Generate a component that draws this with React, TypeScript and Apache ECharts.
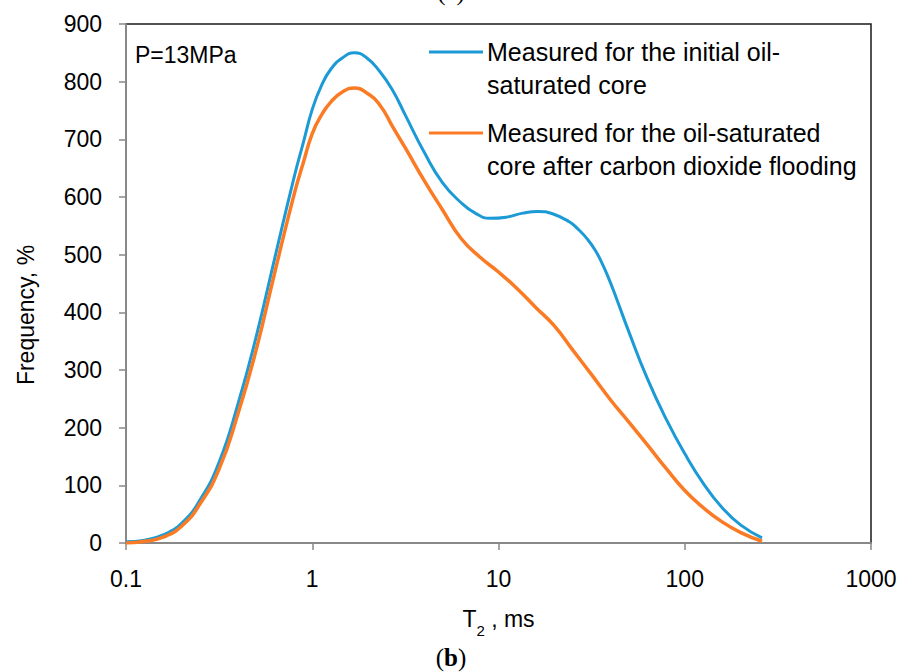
import React, { useEffect, useRef } from "react";
import * as echarts from "echarts";

// T2 (ms) sample points and frequency values
const initialT2 = [0.1, 0.126, 0.158, 0.2, 0.25, 0.316, 0.4, 0.5, 0.63, 0.8, 0.9, 1.0, 1.12, 1.26, 1.45, 1.68, 1.95, 2.3, 2.7, 3.16, 4.0, 5.0, 6.3, 7.5, 9.0, 11, 13.5, 16.3, 19.5, 24, 27, 30, 33, 36, 39.5, 43, 50, 63, 80, 100, 126, 158, 200, 260];
const initialFreq = [2, 5, 14, 35, 75, 140, 242, 358, 495, 635, 697, 752, 793, 822, 841, 850, 842, 818, 785, 742, 677, 625, 590, 572, 563, 565, 572, 575, 571, 557, 543, 527, 508, 485, 455, 424, 367, 285, 213, 155, 103, 62, 31, 9];

const floodT2 = [0.1, 0.126, 0.158, 0.2, 0.25, 0.316, 0.4, 0.5, 0.63, 0.8, 0.9, 1.0, 1.12, 1.26, 1.45, 1.68, 1.95, 2.3, 2.7, 3.16, 4.0, 5.0, 6.3, 8.0, 10, 12.6, 15.8, 20, 25, 31.6, 40, 50, 63, 80, 100, 126, 158, 200, 260];
const floodFreq = [0, 3, 10, 30, 68, 128, 225, 335, 470, 605, 662, 710, 742, 765, 782, 789, 781, 760, 722, 685, 628, 578, 528, 495, 470, 441, 409, 376, 335, 292, 248, 210, 170, 128, 91, 61, 37, 18, 3];

const seriesNames = [
  "Measured for the initial oil-saturated core",
  "Measured for the oil-saturated core after carbon dioxide flooding",
];
const legendLines = [
  ["Measured for the initial oil-", "saturated core"],
  ["Measured for the oil-saturated", "core after carbon dioxide flooding"],
];
const colors = ["#1b9ad6", "#fb7b25"];

const xTicks = [0.1, 1, 10, 100, 1000];
const yMin = 0;
const yMax = 900;
const yInterval = 100;

const annotation = "P=13MPa";
const yTitle = "Frequency, %";
const panelLabel = "b";

const FONT = "'Liberation Sans', Arial, sans-serif";
const SERIF = "'Liberation Serif', 'DejaVu Serif', serif";

export default function App() {
  const ref = useRef<HTMLDivElement>(null);

  useEffect(() => {
    if (!ref.current) return;
    const chart = echarts.init(ref.current, null, { renderer: "svg" });

    const legendGraphics: any[] = [];
    const legendTop = [52, 133];
    legendLines.forEach((lines, i) => {
      legendGraphics.push({
        type: "line",
        shape: { x1: 429, y1: legendTop[i], x2: 483, y2: legendTop[i] },
        style: { stroke: colors[i], lineWidth: 3 },
      });
      lines.forEach((t, j) => {
        legendGraphics.push({
          type: "text",
          x: 487,
          y: legendTop[i] + j * 33,
          style: {
            text: t,
            fontSize: 25,
            fontFamily: FONT,
            fill: "#000",
            textAlign: "left",
            textVerticalAlign: "middle",
          },
        });
      });
    });

    const option: any = {
      animation: false,
      backgroundColor: "#fff",
      grid: {
        left: 126,
        right: 31,
        top: 24,
        bottom: 129,
        show: true,
        borderColor: "#1a1a1a",
        borderWidth: 1.5,
        backgroundColor: "transparent",
      },
      xAxis: {
        type: "log",
        logBase: 10,
        min: xTicks[0],
        max: xTicks[xTicks.length - 1],
        axisLine: { show: true, lineStyle: { color: "#888888", width: 2 } },
        axisTick: { show: true, inside: false, length: 7, lineStyle: { color: "#888888", width: 1.5 } },
        axisLabel: {
          color: "#000",
          fontSize: 23,
          fontFamily: FONT,
          margin: 24,
          formatter: (v: number) => String(v),
        },
        splitLine: { show: false },
        minorTick: { show: false },
        name: "{a|T}{s|2}{a| , ms}",
        nameLocation: "middle",
        nameGap: 64,
        nameTextStyle: {
          rich: {
            a: { fontSize: 23, fontFamily: FONT, color: "#000" },
            s: { fontSize: 15, fontFamily: FONT, color: "#000", verticalAlign: "bottom", padding: [0, 0, -8, 0] },
          },
        },
      },
      yAxis: {
        type: "value",
        min: yMin,
        max: yMax,
        interval: yInterval,
        axisLine: { show: true, lineStyle: { color: "#888888", width: 2 } },
        axisTick: { show: true, inside: false, length: 7, lineStyle: { color: "#888888", width: 1.5 } },
        axisLabel: { color: "#000", fontSize: 23, fontFamily: FONT, margin: 24 },
        splitLine: { show: false },
      },
      series: [
        {
          name: seriesNames[0],
          type: "line",
          smooth: 0.5,
          showSymbol: false,
          symbol: "none",
          lineStyle: { color: colors[0], width: 3 },
          data: initialT2.map((x, i) => [x, initialFreq[i]]),
          z: 3,
        },
        {
          name: seriesNames[1],
          type: "line",
          smooth: 0.5,
          showSymbol: false,
          symbol: "none",
          lineStyle: { color: colors[1], width: 3.5 },
          data: floodT2.map((x, i) => [x, floodFreq[i]]),
          z: 4,
        },
      ],
      graphic: [
        {
          type: "text",
          x: 135,
          y: 55,
          style: {
            text: annotation,
            fontSize: 23,
            fontFamily: FONT,
            fill: "#000",
            textAlign: "left",
            textVerticalAlign: "middle",
          },
        },
        {
          type: "text",
          x: 26,
          y: 315,
          rotation: Math.PI / 2,
          style: {
            text: yTitle,
            fontSize: 23,
            fontFamily: FONT,
            fill: "#000",
            textAlign: "center",
            textVerticalAlign: "middle",
          },
        },
        {
          type: "text",
          x: 451,
          y: 657,
          style: {
            text: "{n|(}{b|" + panelLabel + "}{n|)}",
            textAlign: "center",
            textVerticalAlign: "middle",
            rich: {
              n: { fontSize: 25, fontFamily: SERIF, color: "#000" },
              b: { fontSize: 25, fontFamily: SERIF, fontWeight: "bold", color: "#000" },
            },
          },
        },
        {
          type: "text",
          x: 451,
          y: -9,
          style: {
            text: "(a)",
            fontSize: 25,
            fontFamily: SERIF,
            fill: "#000",
            textAlign: "center",
            textVerticalAlign: "middle",
          },
        },
        ...legendGraphics,
      ],
    };

    chart.setOption(option);
    return () => chart.dispose();
  }, []);

  return <div ref={ref} style={{ width: 902, height: 672, position: "absolute", left: 0, top: 0 }} />;
}
